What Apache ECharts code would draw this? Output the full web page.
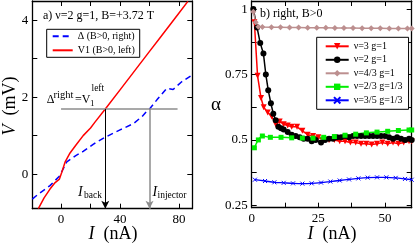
<!DOCTYPE html>
<html>
<head>
<meta charset="utf-8">
<script src="https://cdn.jsdelivr.net/npm/echarts@6/dist/echarts.min.js"></script>
<style>html,body{margin:0;padding:0;background:#fff}#c{width:415px;height:244px}</style>
</head>
<body>
<div id="c"></div>
<script>
// ---------- Panel a) data ----------
const aI_V1 = [-15.4, -11.5, -7.5, -4, -1.1, 0.5, 2.7, 6.1, 10, 15, 20, 23, 30, 40, 50, 60, 67, 80, 86];
const aV1   = [-0.9, -0.62, -0.39, -0.22, -0.13, 0.05, 0.31, 0.55, 0.75, 1.0, 1.2, 1.35, 1.69, 2.19, 2.69, 3.19, 3.54, 4.19, 4.49];
const aI_D  = [-19.5, -15.4, -7.5, -1, 3.9, 10, 15, 22, 30, 40, 49, 55, 58, 60, 65, 71.7, 76, 81.8, 89];
const aD    = [-0.65, -0.52, -0.3, -0.05, 0.32, 0.48, 0.59, 0.78, 0.96, 1.15, 1.31, 1.5, 1.63, 1.69, 1.93, 2.23, 2.2, 2.4, 2.58];
const aCrossV = 1.69;
const aIback = 30;
const aIinjector = 60;
const aHLineI = [0, 79];
const aXTicks = [0, 20, 40, 60, 80];
const aXLabels = [0, 40, 80];
const aYTicks = [0, 1, 2, 3, 4];
const aYLabels = [0, 2, 4];
const aNames = ['Δ (B>0, right)', 'V1 (B>0, left)'];

// ---------- Panel b) data ----------
const bNames = ['ν=3 g=1', 'ν=2 g=1', 'ν=4/3 g=1', 'ν=2/3 g=1/3', 'ν=3/5 g=1/3'];
const bI_nu3 = [1, 2.2, 3.5, 4.5, 6, 7.5, 9, 10.5, 12, 13.5, 15, 17, 19, 21, 23, 25, 27, 29, 31, 33, 35, 37, 39, 41, 43, 45, 47, 49, 51, 53, 55, 57, 59, 60];
const bA_nu3 = [0.95, 0.745, 0.66, 0.625, 0.605, 0.59, 0.56, 0.57, 0.56, 0.555, 0.55, 0.55, 0.535, 0.52, 0.515, 0.51, 0.5, 0.5, 0.5, 0.495, 0.495, 0.49, 0.49, 0.485, 0.485, 0.483, 0.485, 0.49, 0.485, 0.49, 0.485, 0.49, 0.495, 0.495];
const bI_nu2 = [0.6, 2, 3.2, 4.4, 5.3, 6.2, 7.2, 8.1, 9, 10, 11, 12, 13.5, 15, 16.5, 18, 19.5, 21, 22.5, 24, 26, 27.5, 29, 30.5, 32, 33.5, 35, 36.5, 38, 39.5, 41, 42.5, 44, 45.5, 47, 48.5, 50, 51.5, 53, 54.5, 56, 57.5, 59, 60];
const bA_nu2 = [1.0, 0.93, 0.87, 0.83, 0.75, 0.69, 0.64, 0.6, 0.575, 0.55, 0.545, 0.54, 0.53, 0.52, 0.515, 0.51, 0.505, 0.505, 0.495, 0.5, 0.49, 0.5, 0.505, 0.505, 0.51, 0.51, 0.515, 0.51, 0.515, 0.515, 0.515, 0.515, 0.515, 0.515, 0.515, 0.515, 0.515, 0.51, 0.505, 0.51, 0.505, 0.5, 0.505, 0.5];
const bI_nu43 = [0.6, 1.5, 2.5, 4, 7.4, 10.8, 14.2, 17.6, 21, 24.4, 27.8, 31.2, 34.6, 38, 41.4, 44.8, 48.2, 51.6, 55, 58.4, 60];
const bA_nu43 = [0.99, 0.95, 0.933, 0.932, 0.931, 0.931, 0.93, 0.93, 0.929, 0.929, 0.929, 0.928, 0.928, 0.928, 0.927, 0.927, 0.927, 0.926, 0.926, 0.926, 0.926];
const bI_nu23 = [1, 2.5, 4, 7, 11, 15, 19, 23, 27, 31, 35, 39, 43, 47, 51, 55, 59, 60];
const bA_nu23 = [0.47, 0.5, 0.515, 0.51, 0.51, 0.508, 0.507, 0.507, 0.51, 0.513, 0.518, 0.522, 0.527, 0.53, 0.533, 0.536, 0.538, 0.538];
const bI_nu35 = [1.2, 5, 8.5, 12, 15.5, 19, 22.5, 26, 29.5, 33, 36.5, 40, 43.5, 47, 50.5, 54, 57.5, 60];
const bA_nu35 = [0.348, 0.343, 0.338, 0.336, 0.334, 0.333, 0.334, 0.337, 0.341, 0.345, 0.349, 0.353, 0.356, 0.357, 0.357, 0.355, 0.351, 0.348];
const bXTicks = [0, 12.5, 25, 37.5, 50];
const bXLabels = [0, 25, 50];
const bYTicks = [0.25, 0.375, 0.5, 0.625, 0.75, 0.875, 1];
const bYLabels = [0.25, 0.5, 0.75, 1];

const zip = (xs, ys) => xs.map((x, i) => [x, ys[i]]);
const FONT = 'Liberation Serif';
const axisLineStyle = { color: '#000', width: 1.3 };

function mkAxis(gridIndex, position, min, max, ticks, labels, showLabel) {
  return {
    type: 'value', gridIndex, position, min, max,
    splitLine: { show: false },
    axisLine: { show: true, onZero: false, lineStyle: axisLineStyle },
    axisTick: { show: true, inside: true, length: 5, customValues: ticks, lineStyle: { color: '#000', width: 1 } },
    axisLabel: showLabel ? {
      show: true, customValues: labels, margin: 4,
      fontFamily: FONT, fontSize: 13, color: '#000',
      formatter: v => String(v)
    } : { show: false }
  };
}

const chart = echarts.init(document.getElementById('c'), null, { renderer: 'canvas' });
const aXmin = -19.5, aXmax = 89, aYmin = -0.9, aYmax = 4.5;
const bXmin = 0, bXmax = 60, bYmin = 0.241, bYmax = 1.031;

const txt = (x, y, text, size, extra) => ({
  type: 'text', x, y,
  style: Object.assign({ text, fontFamily: FONT, fontSize: size, fill: '#000', verticalAlign: 'middle' }, extra || {})
});

const option = {
  animation: false,
  grid: [
    { left: 32.3, top: 1, width: 160, height: 207.7 },
    { left: 251.7, top: 1, width: 160, height: 206.7 }
  ],
  xAxis: [
    mkAxis(0, 'bottom', aXmin, aXmax, aXTicks, aXLabels, true),
    mkAxis(0, 'top', aXmin, aXmax, aXTicks, aXLabels, false),
    mkAxis(1, 'bottom', bXmin, bXmax, bXTicks, bXLabels, true),
    mkAxis(1, 'top', bXmin, bXmax, bXTicks, bXLabels, false)
  ],
  yAxis: [
    mkAxis(0, 'left', aYmin, aYmax, aYTicks, aYLabels, true),
    mkAxis(0, 'right', aYmin, aYmax, aYTicks, aYLabels, false),
    mkAxis(1, 'left', bYmin, bYmax, bYTicks, bYLabels, true),
    mkAxis(1, 'right', bYmin, bYmax, bYTicks, bYLabels, false)
  ],
  legend: [
    {
      data: aNames, orient: 'vertical', left: 46.7, top: 29.3,
      padding: [2, 5, 2, 5], itemGap: 4, itemWidth: 20, itemHeight: 8,
      borderColor: '#000', borderWidth: 1, backgroundColor: '#fff',
      itemStyle: { color: 'transparent', borderColor: 'transparent', borderWidth: 0, opacity: 0 },
      textStyle: { fontFamily: FONT, fontSize: 10, color: '#000', lineHeight: 9 }
    },
    {
      data: bNames, orient: 'vertical', left: 316.7, top: 37.3,
      padding: [4, 6, 4, 8], itemGap: 3.5, itemWidth: 23, itemHeight: 8,
      borderColor: '#000', borderWidth: 1, backgroundColor: '#fff',
      textStyle: { fontFamily: FONT, fontSize: 10, color: '#000', lineHeight: 10 }
    }
  ],
  series: [
    {
      name: aNames[0], type: 'line', xAxisIndex: 0, yAxisIndex: 0,
      data: zip(aI_D, aD), showSymbol: false, symbol: 'none',
      lineStyle: { color: '#0000ff', width: 1.5, type: [6, 4] }, itemStyle: { color: '#0000ff' }
    },
    {
      name: aNames[1], type: 'line', xAxisIndex: 0, yAxisIndex: 0,
      data: zip(aI_V1, aV1), showSymbol: false, symbol: 'none',
      lineStyle: { color: '#ff0000', width: 1.5 }, itemStyle: { color: '#ff0000' },
      markLine: {
        silent: true, animation: false,
        label: { show: false },
        symbolSize: [6, 8],
        data: [
          [{ coord: [aHLineI[0], aCrossV], symbol: 'none', lineStyle: { color: '#8c8c8c', width: 1.5, type: 'solid' } },
           { coord: [aHLineI[1], aCrossV], symbol: 'none' }],
          [{ coord: [aIback, aCrossV], symbol: 'none', lineStyle: { color: '#000', width: 1, type: 'solid' } },
           { coord: [aIback, aYmin], symbol: 'arrow' }],
          [{ coord: [aIinjector, aCrossV], symbol: 'none', lineStyle: { color: '#8c8c8c', width: 1.5, type: 'solid' } },
           { coord: [aIinjector, aYmin], symbol: 'arrow' }]
        ]
      }
    },
    {
      name: bNames[0], type: 'line', xAxisIndex: 2, yAxisIndex: 2,
      data: zip(bI_nu3, bA_nu3), symbol: 'triangle', symbolRotate: 180, symbolSize: 6,
      lineStyle: { color: '#ff0000', width: 1.5 }, itemStyle: { color: '#ff0000' }
    },
    {
      name: bNames[1], type: 'line', xAxisIndex: 2, yAxisIndex: 2,
      data: zip(bI_nu2, bA_nu2), symbol: 'circle', symbolSize: 6,
      lineStyle: { color: '#000', width: 1.5 }, itemStyle: { color: '#000' }
    },
    {
      name: bNames[2], type: 'line', xAxisIndex: 2, yAxisIndex: 2,
      data: zip(bI_nu43, bA_nu43), symbol: 'diamond', symbolSize: 6,
      lineStyle: { color: '#bc8f8f', width: 1.5 }, itemStyle: { color: '#bc8f8f' }
    },
    {
      name: bNames[3], type: 'line', xAxisIndex: 2, yAxisIndex: 2,
      data: zip(bI_nu23, bA_nu23), symbol: 'rect', symbolSize: 5, smooth: 0.3,
      lineStyle: { color: '#00ee00', width: 1.5 }, itemStyle: { color: '#00ee00' }
    },
    {
      name: bNames[4], type: 'line', xAxisIndex: 2, yAxisIndex: 2,
      data: zip(bI_nu35, bA_nu35), symbol: 'path://M0,0L10,10M10,0L0,10', symbolSize: 4, smooth: 0.3,
      lineStyle: { color: '#0000ff', width: 1.3 },
      itemStyle: { color: '#0000ff', borderColor: '#0000ff', borderWidth: 1 }
    }
  ],
  graphic: [
    // panel a titles and annotations
    txt(43, 16, 'a) ν=2 g=1, B=+3.72 T', 12),
    txt(46.7, 99.5, 'Δ', 12),
    txt(53.5, 95.5, 'right', 10.5),
    txt(75, 99.5, '=V', 12),
    txt(90, 104, '1', 9),
    txt(91.5, 88, 'left', 9.5),
    txt(78, 192, 'I', 14, { fontStyle: 'italic' }),
    txt(84, 195, 'back', 9.5),
    txt(152.5, 192, 'I', 14, { fontStyle: 'italic' }),
    txt(157.5, 195, 'injector', 9.5),
    // axis titles panel a
    txt(113, 234, '{i|I}  (nA)', 18, { align: 'center', rich: { i: { fontFamily: FONT, fontStyle: 'italic', fontSize: 18 } } }),
    Object.assign(txt(10, 106, '{i|V}  (mV)', 18, { align: 'center', rich: { i: { fontFamily: FONT, fontStyle: 'italic', fontSize: 18 } } }), { rotation: Math.PI / 2 }),
    // panel b
    txt(260, 14, 'b) right, B>0', 12),
    txt(332, 234, '{i|I}  (nA)', 18, { align: 'center', rich: { i: { fontFamily: FONT, fontStyle: 'italic', fontSize: 18 } } }),
    txt(216, 105, 'α', 19, { align: 'center' })
  ]
};
chart.setOption(option);
</script>
</body>
</html>
